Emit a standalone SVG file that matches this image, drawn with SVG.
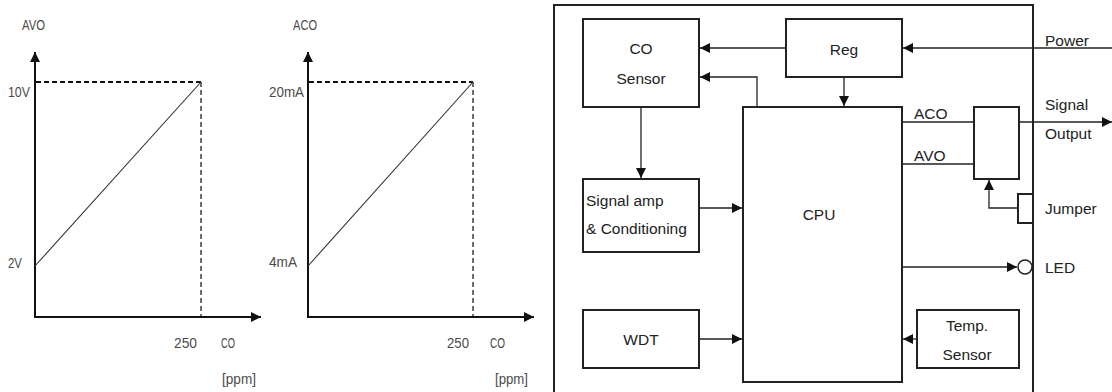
<svg xmlns="http://www.w3.org/2000/svg" width="1112" height="392" viewBox="0 0 1112 392">
<style>
.g{font-family:"Liberation Sans",Arial,sans-serif;font-size:15px;fill:#4a4a4a}
.t{font-family:"Liberation Sans",Arial,sans-serif;font-size:15.5px;fill:#222}
.box{fill:#fff;stroke:#222;stroke-width:2}
.ln{fill:none;stroke:#222;stroke-width:1.3}
.ax{fill:none;stroke:#111;stroke-width:2}
.dh{fill:none;stroke:#111;stroke-width:2;stroke-dasharray:5 3}
.dv{fill:none;stroke:#222;stroke-width:1.3;stroke-dasharray:5 3}
.dg{fill:none;stroke:#333;stroke-width:1.1}
</style>
<defs>
<marker id="ah" viewBox="0 0 10 10" refX="10" refY="5" markerWidth="10" markerHeight="10" markerUnits="userSpaceOnUse" orient="auto">
<path d="M0,0 L10,5 L0,10 z" fill="#111"/>
</marker>
</defs>
<rect width="1112" height="392" fill="#fff"/>
<g id="graph-avo">
<line class="ax" x1="35" y1="318" x2="35" y2="52" marker-end="url(#ah)"/>
<line class="ax" x1="34" y1="317" x2="261" y2="317" marker-end="url(#ah)"/>
<line class="dh" x1="36" y1="82" x2="201" y2="82"/>
<line class="dv" x1="201" y1="82" x2="201" y2="316"/>
<line class="dg" x1="35" y1="266" x2="201" y2="82"/>
<text class="g" x="22" y="30" textLength="23" lengthAdjust="spacingAndGlyphs">AVO</text>
<text class="g" x="8" y="97" textLength="22" lengthAdjust="spacingAndGlyphs">10V</text>
<text class="g" x="8" y="268" textLength="14" lengthAdjust="spacingAndGlyphs">2V</text>
<text class="g" x="174" y="348" textLength="23" lengthAdjust="spacingAndGlyphs">250</text>
<text class="g" x="221" y="348" textLength="14" lengthAdjust="spacingAndGlyphs">CO</text>
<text class="g" x="222" y="384" textLength="34" lengthAdjust="spacingAndGlyphs">[ppm]</text>
</g>
<g id="graph-aco">
<line class="ax" x1="308" y1="318" x2="308" y2="52" marker-end="url(#ah)"/>
<line class="ax" x1="307" y1="317" x2="534" y2="317" marker-end="url(#ah)"/>
<line class="dh" x1="309" y1="82" x2="473" y2="82"/>
<line class="dv" x1="473" y1="82" x2="473" y2="316"/>
<line class="dg" x1="308" y1="266" x2="473" y2="82"/>
<text class="g" x="293" y="30" textLength="24" lengthAdjust="spacingAndGlyphs">ACO</text>
<text class="g" x="269" y="97" textLength="35" lengthAdjust="spacingAndGlyphs">20mA</text>
<text class="g" x="269" y="267" textLength="28" lengthAdjust="spacingAndGlyphs">4mA</text>
<text class="g" x="447" y="348" textLength="22" lengthAdjust="spacingAndGlyphs">250</text>
<text class="g" x="490" y="348" textLength="15" lengthAdjust="spacingAndGlyphs">CO</text>
<text class="g" x="495" y="384" textLength="33" lengthAdjust="spacingAndGlyphs">[ppm]</text>
</g>
<g id="enclosure"><rect class="box" x="554" y="5" width="479" height="392" fill="none"/></g>
<g id="co-sensor"><rect class="box" x="583" y="19" width="116" height="88"/>
<text class="t" x="641" y="54" text-anchor="middle">CO</text>
<text class="t" x="641" y="84" text-anchor="middle">Sensor</text></g>
<g id="reg"><rect class="box" x="786" y="19" width="116" height="58"/>
<text class="t" x="844" y="55" text-anchor="middle">Reg</text></g>
<g id="cpu"><rect class="box" x="743" y="107" width="159" height="275"/>
<text class="t" x="819" y="220" text-anchor="middle">CPU</text></g>
<g id="signal-amp"><rect class="box" x="583" y="179" width="116" height="73"/>
<text class="t" x="586" y="206">Signal amp</text>
<text class="t" x="586" y="234">&amp; Conditioning</text></g>
<g id="wdt"><rect class="box" x="583" y="310" width="116" height="58"/>
<text class="t" x="641" y="345" text-anchor="middle">WDT</text></g>
<g id="temp-sensor"><rect class="box" x="917" y="310" width="102" height="58"/>
<text class="t" x="967" y="331" text-anchor="middle">Temp.</text>
<text class="t" x="967" y="360" text-anchor="middle">Sensor</text></g>
<g id="output-block"><rect class="box" x="974" y="107" width="45" height="72"/></g>
<g id="jumper"><rect class="box" x="1018" y="194" width="15" height="29"/>
<text class="t" x="1045" y="214">Jumper</text></g>
<g id="led"><circle cx="1025" cy="267" r="7" fill="#fff" stroke="#222" stroke-width="1.5"/>
<text class="t" x="1045" y="273">LED</text></g>
<g id="connectors">
<line class="ln" x1="786" y1="48" x2="700" y2="48" marker-end="url(#ah)"/>
<polyline class="ln" points="757,107 757,77 700,77" marker-end="url(#ah)"/>
<line class="ln" x1="844" y1="78" x2="844" y2="106" marker-end="url(#ah)"/>
<line class="ln" x1="641" y1="108" x2="641" y2="178" marker-end="url(#ah)"/>
<line class="ln" x1="700" y1="208" x2="742" y2="208" marker-end="url(#ah)"/>
<line class="ln" x1="700" y1="339" x2="742" y2="339" marker-end="url(#ah)"/>
<line class="ln" x1="916" y1="339" x2="903" y2="339" marker-end="url(#ah)"/>
<line class="ln" x1="1112" y1="48" x2="903" y2="48" marker-end="url(#ah)"/>
<line class="ln" x1="903" y1="122" x2="974" y2="122"/>
<line class="ln" x1="903" y1="164" x2="974" y2="164"/>
<line class="ln" x1="1020" y1="122" x2="1112" y2="122" marker-end="url(#ah)"/>
<polyline class="ln" points="1018,208 989,208 989,180" marker-end="url(#ah)"/>
<line class="ln" x1="903" y1="267" x2="1017" y2="267" marker-end="url(#ah)"/>
<text class="t" x="914" y="119">ACO</text>
<text class="t" x="914" y="161">AVO</text>
<text class="t" x="1045" y="46">Power</text>
<text class="t" x="1045" y="110">Signal</text>
<text class="t" x="1045" y="139">Output</text>
</g>
</svg>
